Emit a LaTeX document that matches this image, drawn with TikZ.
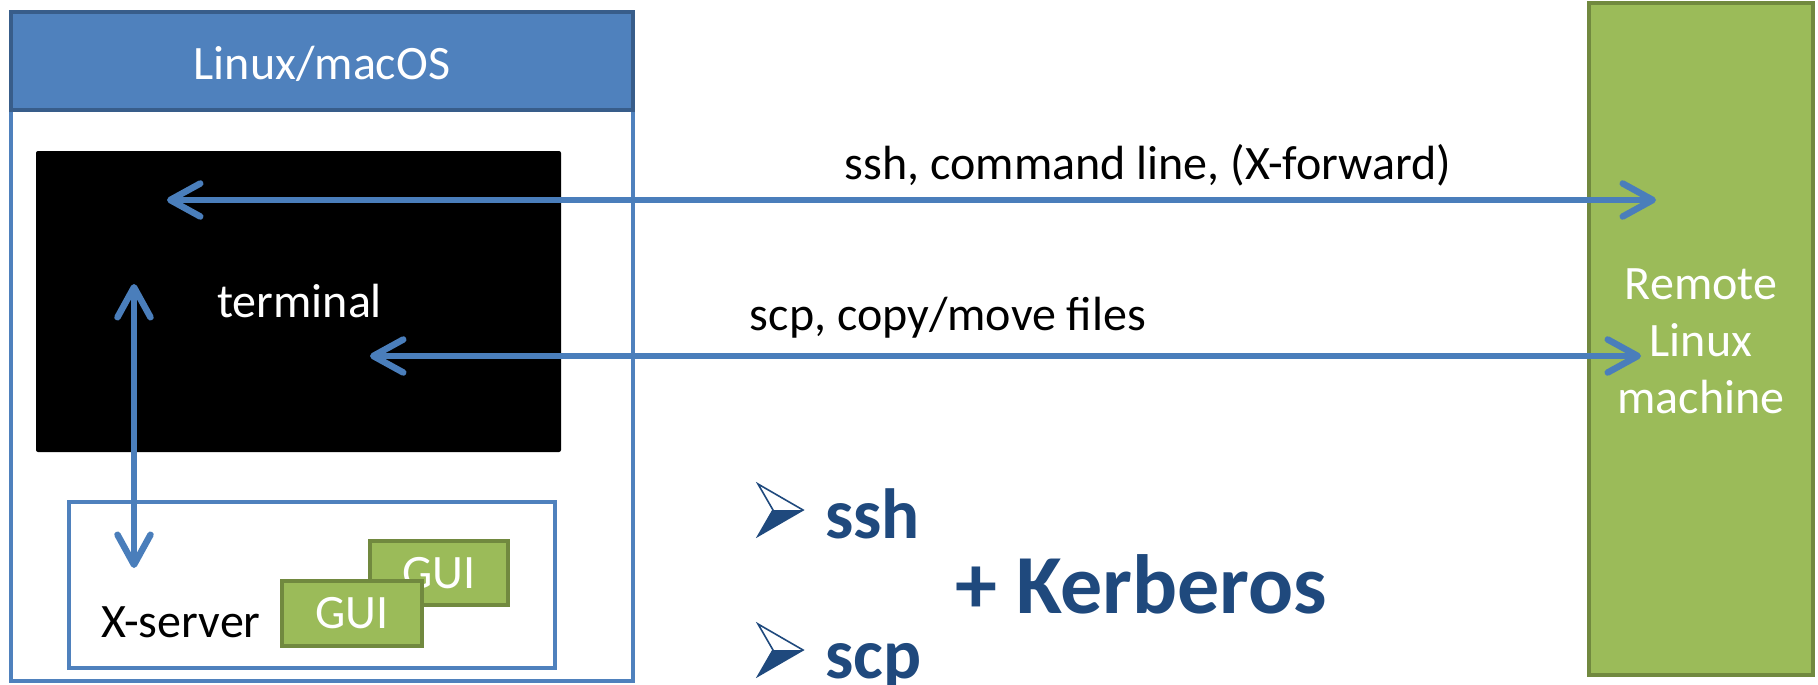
\documentclass[tikz,border=0pt]{standalone}
\usepackage{fontspec}
\setmainfont{Carlito}
\usetikzlibrary{arrows.meta}
\definecolor{acblue}{HTML}{4F81BD}
\definecolor{acbluedark}{HTML}{385D8A}
\definecolor{acgreen}{HTML}{9BBB59}
\definecolor{acgreendark}{HTML}{71893F}
\definecolor{acnavy}{HTML}{1F497D}
\definecolor{acarrow}{HTML}{4A7EBB}
\tikzset{
  boxbase/.style={rectangle, inner sep=0pt, outer sep=0pt, anchor=north west},
  bluebox/.style={boxbase, draw=acblue, line width=4pt},
  headbox/.style={boxbase, fill=acblue, draw=acbluedark, line width=4pt},
  termbox/.style={boxbase, fill=black, rounded corners=2pt},
  greenbox/.style={boxbase, fill=acgreen, draw=acgreendark, line width=4pt},
  reg/.style={font=\fontsize{48}{57}\selectfont, inner sep=0pt},
  boldbig/.style={font=\fontsize{71}{85}\selectfont\bfseries, text=acnavy, inner sep=0pt},
  boldhuge/.style={font=\fontsize{84}{100}\selectfont\bfseries, text=acnavy, inner sep=0pt},
  conn/.style={draw=acarrow, line width=6.5pt,
    {Straight Barb[length=30pt,width=33pt,round]}-{Straight Barb[length=30pt,width=33pt,round]}},
}
\begin{document}
\begin{tikzpicture}[x=1pt,y=-1pt]
\useasboundingbox (0,0) rectangle (1818,685);
% Linux/macOS machine
\node[bluebox, minimum width=622pt, minimum height=669pt] (outer) at (11,12) {};
\node[headbox, minimum width=622pt, minimum height=98pt] (head) at (11,12) {};
\node[reg, text=white, anchor=base] (headtxt) at (322,79) {Linux/macOS};
\node[termbox, minimum width=525pt, minimum height=301pt] (term) at (36,151) {};
\node[reg, text=white, anchor=base west] (termtxt) at (217,317) {terminal};
\node[bluebox, minimum width=486pt, minimum height=166pt] (xsrv) at (69,502) {};
\node[reg, anchor=base west] (xsrvtxt) at (101,637) {X-server};
\node[greenbox, minimum width=138pt, minimum height=64pt] (gui2) at (370,541) {};
\node[reg, text=white] at (gui2.center) {GUI};
\node[greenbox, minimum width=140pt, minimum height=65pt] (gui1) at (282,581) {};
\node[reg, text=white] at (gui1.center) {GUI};
% Remote machine
\node[greenbox, minimum width=224pt, minimum height=672pt] (remote) at (1589,3) {};
\node[reg, text=white, align=center, font=\fontsize{48}{57}\selectfont] (remtxt) at (1701,341) {Remote\\Linux\\machine};
% connector end points
\coordinate (a1) at (167,200);
\coordinate (a2) at (1656,200);
\coordinate (b1) at (370,356);
\coordinate (b2) at (1641,356);
\coordinate (c1) at (134,284);
\coordinate (c2) at (134,568);
\draw[conn] (a1) -- (a2);
\draw[conn] (b1) -- (b2);
\draw[conn] (c1) -- (c2);
\node[reg, anchor=base] (lab1) at (1148,179) {ssh, command line, (X-forward)};
\node[reg, anchor=base] (lab2) at (948,330) {scp, copy/move files};
% bullets
\foreach \dy/\nm in {0/ssh,140/scp}{
  \begin{scope}[yshift=-\dy pt]
    \fill[acnavy] (773,510) -- (803,510) -- (758,536) -- cycle;
    \draw[acnavy, line width=1.6pt, line join=miter] (758,484) -- (803,510) -- (758,536) -- (773,510) -- cycle;
  \end{scope}
}
\node[boldbig, anchor=base west] (ssh) at (825,538) {ssh};
\node[boldbig, anchor=base west] (scp) at (825,678) {scp};
\node[boldhuge, anchor=base west] (kerb) at (955,613) {+ Kerberos};
\end{tikzpicture}
\end{document}
